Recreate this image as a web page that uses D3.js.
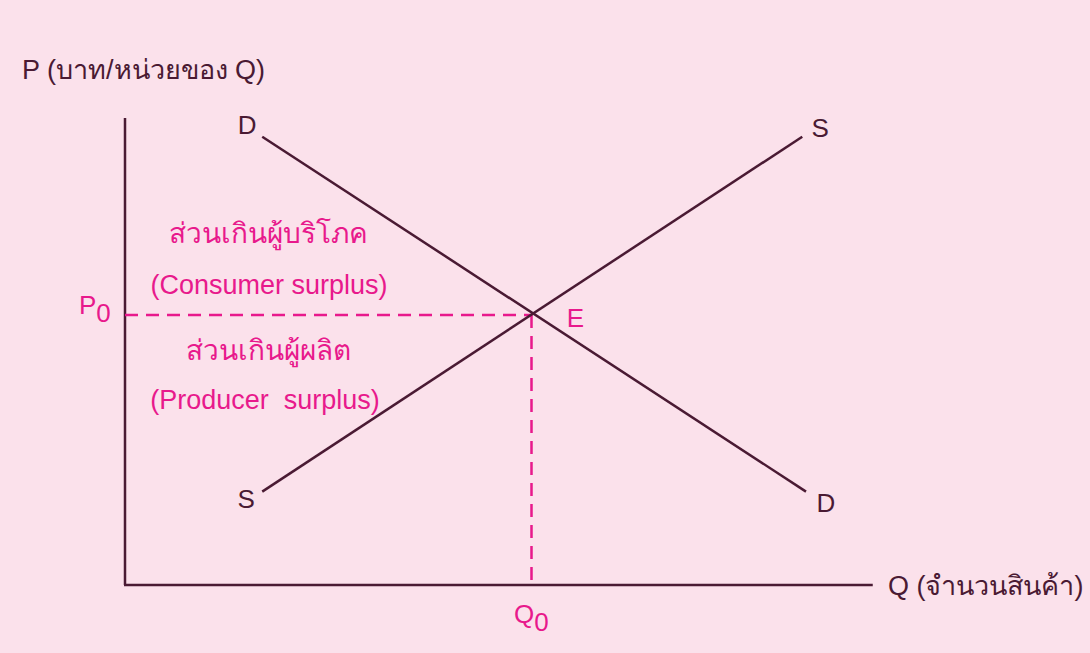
<!DOCTYPE html>
<html>
<head>
<meta charset="utf-8">
<script src="https://cdn.jsdelivr.net/npm/d3@7"></script>
<style>
  body { margin: 0; background: #fbe1eb; }
  svg text { font-family: "Liberation Sans", Arial, "Noto Sans", sans-serif; }
</style>
</head>
<body>
<div id="chart"></div>
<script>
// demand and supply end points [quantity, price]
const demand = [[1.83, 9.6], [9.08, 2.0]];
const supply = [[1.83, 2.0], [9.03, 9.6]];
const equilibrium = [5.42, 5.78];

// text labels
const axisTitleY = 'P (บาท/หน่วยของ Q)';
const axisTitleX = 'Q (จำนวนสินค้า)';
const consumerLabels = ['ส่วนเกินผู้บริโภค', '(Consumer surplus)'];
const producerLabels = ['ส่วนเกินผู้ผลิต', '(Producer  surplus)'];

const width = 1090, height = 653;
const ink = '#4a1a33', pink = '#e8198c';

const svg = d3.select('#chart').append('svg')
    .attr('width', width).attr('height', height);

svg.append('rect').attr('width', width).attr('height', height).attr('fill', '#fbe1eb');

let x = d3.scaleLinear([0, 10], [125, 875]);
let y = d3.scaleLinear([0, 10], [585, 118]);

// axes
svg.append('line')
    .attr('x1', x(0)).attr('y1', y(0)).attr('x2', x(0)).attr('y2', y(10))
    .attr('stroke', ink).attr('stroke-width', 2.5);
svg.append('line')
    .attr('x1', x(0) - 1).attr('y1', y(0)).attr('x2', x(9.97)).attr('y2', y(0))
    .attr('stroke', ink).attr('stroke-width', 2.5);

// dashed guides to the equilibrium
svg.append('line')
    .attr('x1', x(0)).attr('y1', y(equilibrium[1]))
    .attr('x2', x(equilibrium[0])).attr('y2', y(equilibrium[1]))
    .attr('stroke', pink).attr('stroke-width', 2.5).attr('stroke-dasharray', '13,8');
svg.append('line')
    .attr('x1', x(equilibrium[0])).attr('y1', y(equilibrium[1]))
    .attr('x2', x(equilibrium[0])).attr('y2', y(0))
    .attr('stroke', pink).attr('stroke-width', 2.5).attr('stroke-dasharray', '13,8');

// curves
let line = d3.line().x(d => x(d[0])).y(d => y(d[1]));
[demand, supply].forEach(d => {
    svg.append('path').attr('d', line(d))
        .attr('fill', 'none').attr('stroke', ink).attr('stroke-width', 2.5);
});

let label = (tx, ty, t, color, anchor = 'middle', size = 26) => svg.append('text')
    .attr('x', tx).attr('y', ty).text(t)
    .attr('fill', color).attr('text-anchor', anchor)
    .style('font-size', size + 'px');

label(x(demand[0][0]) - 15, y(demand[0][1]) - 3, 'D', ink);
label(x(supply[1][0]) + 18, y(supply[1][1]) + 0, 'S', ink);
label(x(supply[0][0]) - 16, y(supply[0][1]) + 16, 'S', ink);
label(x(demand[1][0]) + 20, y(demand[1][1]) + 20, 'D', ink);
label(x(equilibrium[0]) + 44, y(equilibrium[1]) + 12, 'E', pink);

label(22, 79, axisTitleY, ink, 'start', 27);
label(888, 595, axisTitleX, ink, 'start', 27);

// P0 and Q0 with subscripts
let p0 = label(79, 314, 'P', pink, 'start');
p0.append('tspan').text('0').attr('dy', 8);
let q0 = label(514, 623, 'Q', pink, 'start');
q0.append('tspan').text('0').attr('dy', 8);

label(268, 243, consumerLabels[0], pink, 'middle', 28);
label(269, 294, consumerLabels[1], pink, 'middle', 27);
label(268, 360, producerLabels[0], pink, 'middle', 28);
label(265, 409, producerLabels[1], pink, 'middle', 27).style('white-space', 'pre');
</script>
</body>
</html>
